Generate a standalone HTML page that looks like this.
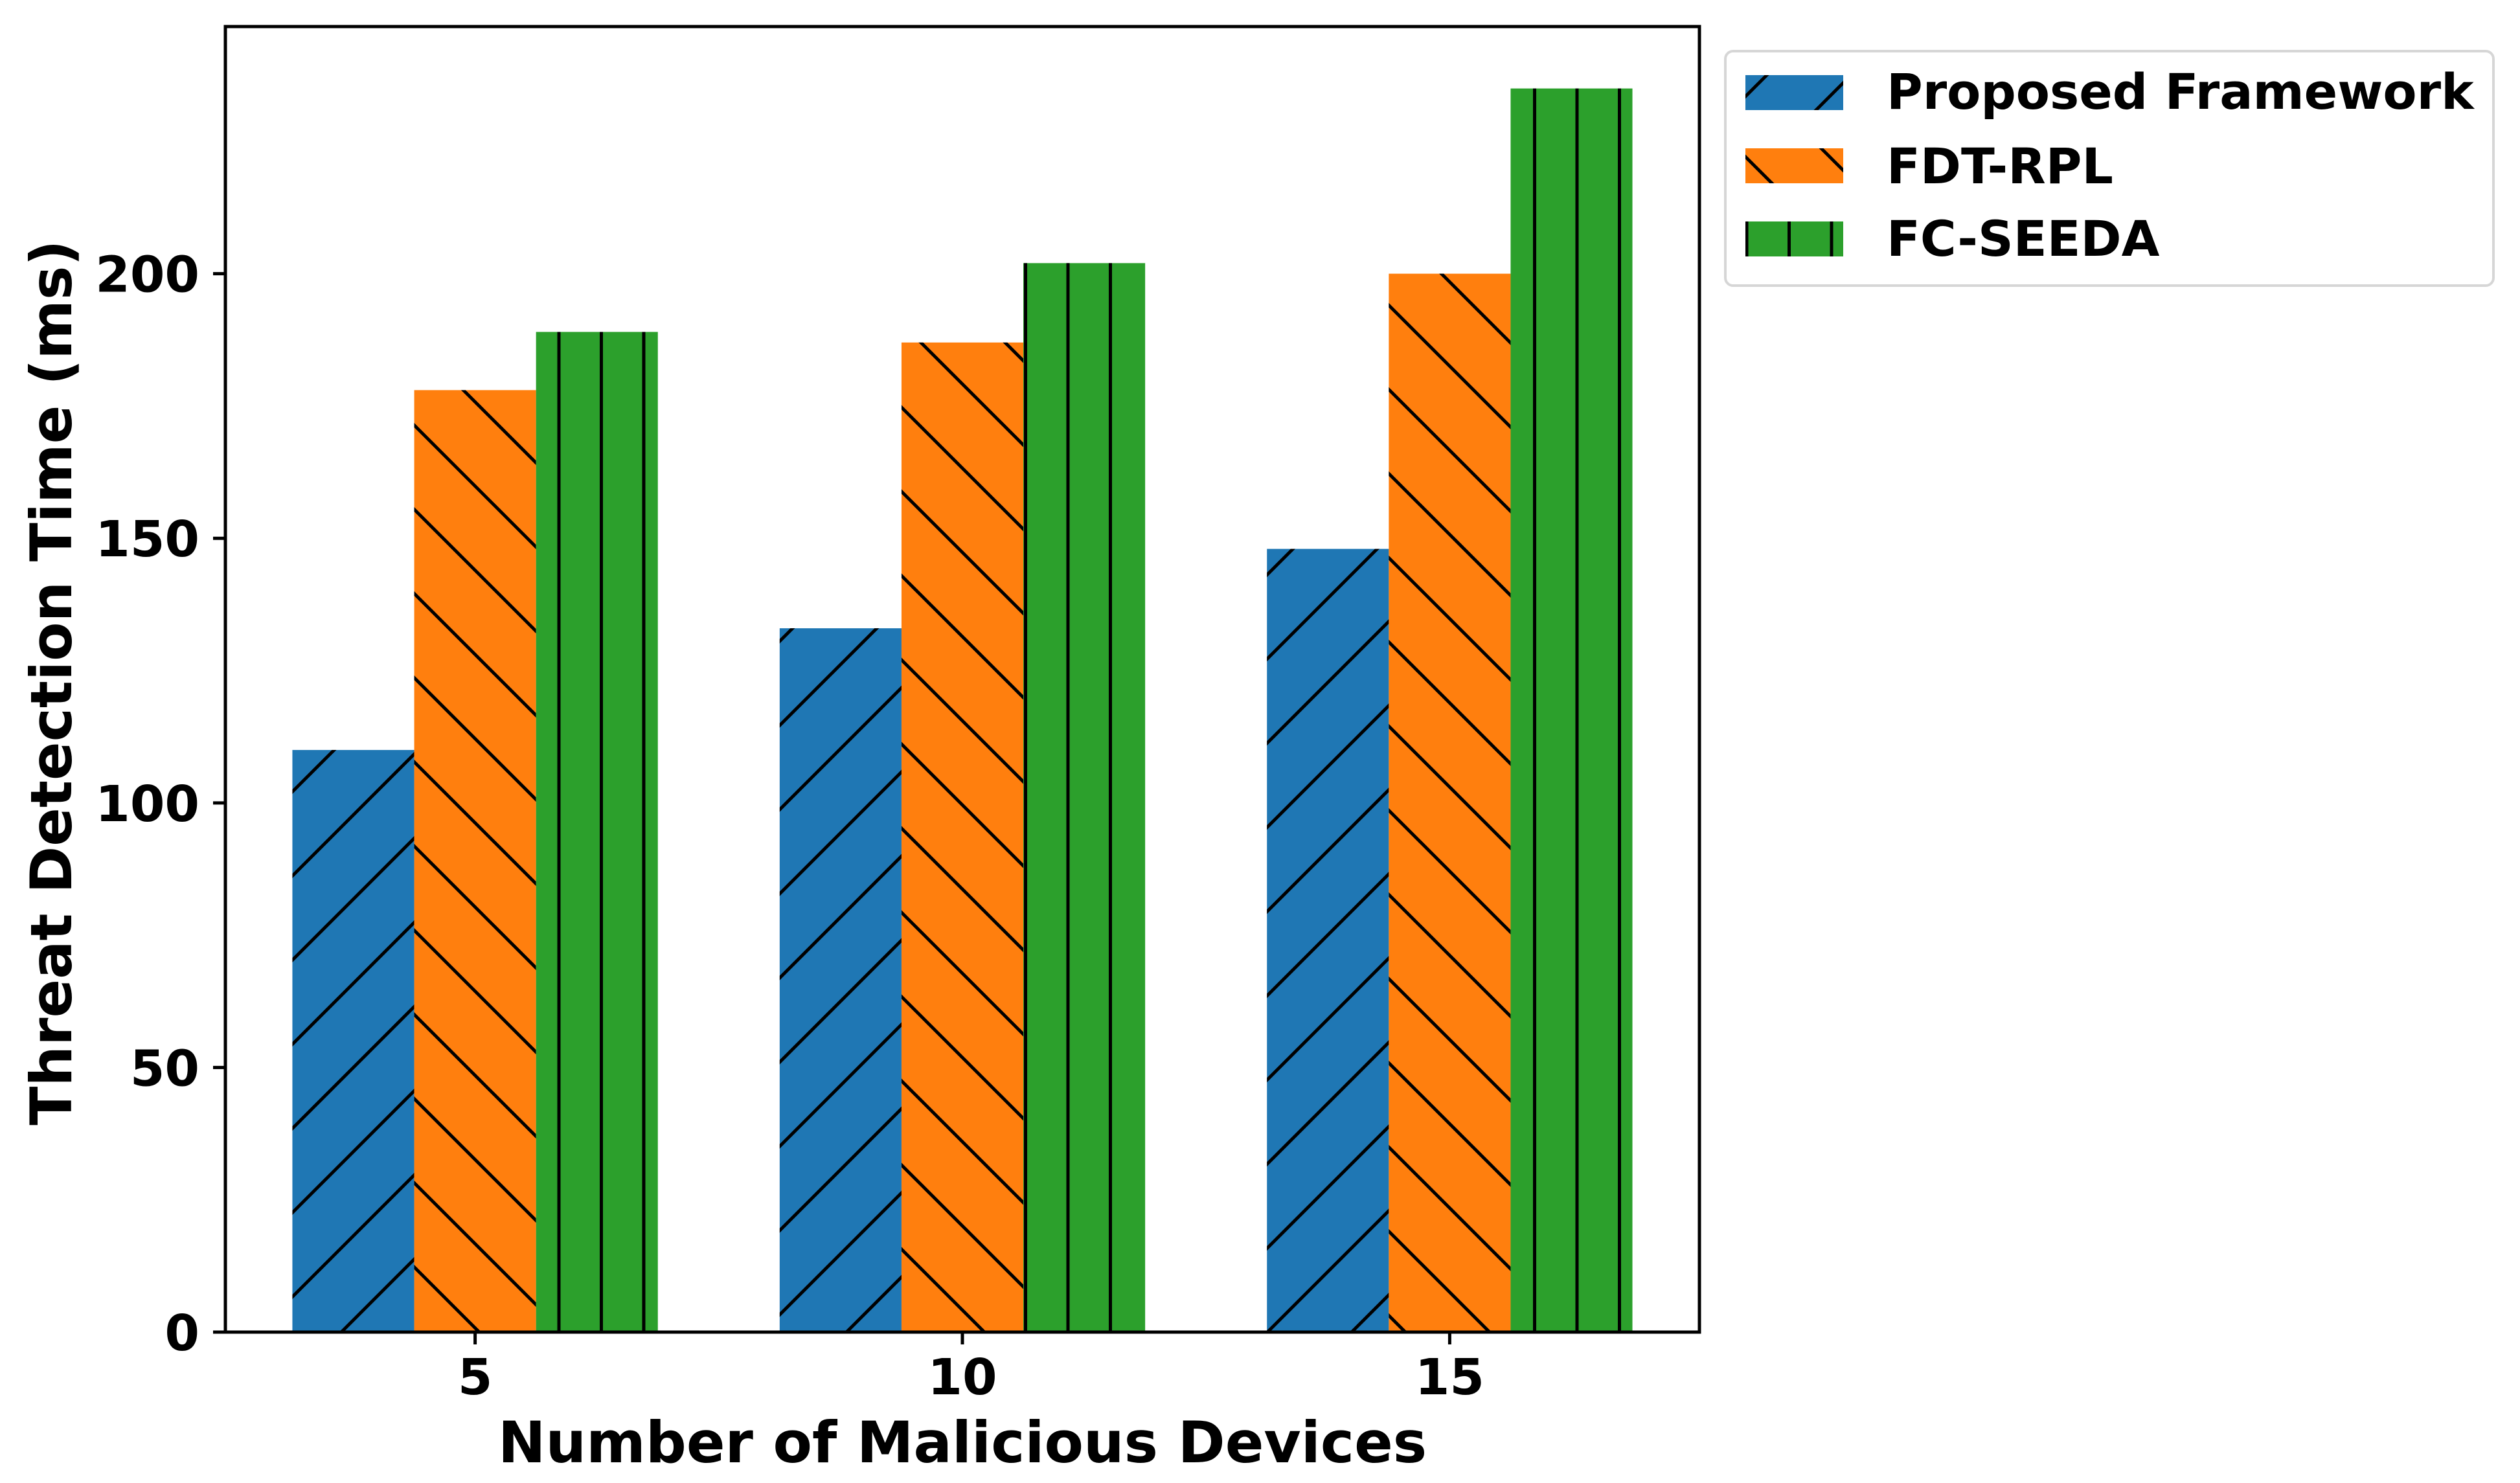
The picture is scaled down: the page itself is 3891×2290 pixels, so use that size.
<!DOCTYPE html>
<html><head><meta charset="utf-8"><style>
html,body{margin:0;padding:0;background:#fff}
svg{display:block}
text{font-family:"DejaVu Sans","Liberation Sans",sans-serif;font-weight:bold;fill:#000}
</style></head><body>
<svg id="chart" width="3891" height="2290" viewBox="0 0 3891 2290" xmlns="http://www.w3.org/2000/svg">
<defs>
<pattern id="hatch-fwd" patternUnits="userSpaceOnUse" x="114" y="0" width="130" height="130">
<path d="M-65,65 L65,-65 M0,130 L130,0 M65,195 L195,65" stroke="#000" stroke-width="5"/>
</pattern>
<pattern id="hatch-back" patternUnits="userSpaceOnUse" x="113" y="0" width="130" height="130">
<path d="M-65,65 L65,195 M0,0 L130,130 M65,-65 L195,65" stroke="#000" stroke-width="5"/>
</pattern>
<pattern id="hatch-vert" patternUnits="userSpaceOnUse" x="11.5" y="0" width="65.5" height="100">
<path d="M0,-10 L0,110 M65.5,-10 L65.5,110" stroke="#000" stroke-width="5"/>
</pattern>
</defs>
<g id="bars"></g>
<g id="axes"></g>
<text transform="translate(110,1054) rotate(-90)" text-anchor="middle" font-size="88">Threat Detection Time (ms)</text>
<text x="1486" y="2258" text-anchor="middle" font-size="88">Number of Malicious Devices</text>
<g>
<rect x="2664" y="79" width="1186" height="362" rx="12" fill="#fff" stroke="#d6d6d6" stroke-width="4"/>
<g>
<rect x="2695" y="116" width="151" height="54" fill="#1f77b4"/><rect x="2695" y="116" width="151" height="54" fill="url(#hatch-fwd)"/>
<text x="2913" y="168" font-size="76">Proposed Framework</text></g>
<g>
<rect x="2695" y="229" width="151" height="54" fill="#ff7f0e"/><rect x="2695" y="229" width="151" height="54" fill="url(#hatch-back)"/>
<text x="2913" y="283" font-size="76">FDT-RPL</text></g>
<g>
<rect x="2695" y="342" width="151" height="54" fill="#2ca02c"/><rect x="2695" y="342" width="151" height="54" fill="url(#hatch-vert)"/>
<text x="2913" y="395" font-size="76">FC-SEEDA</text></g>
</g>
</svg>
<script>
const categories = ["5", "10", "15"];
const seriesNames = ["Proposed Framework", "FDT-RPL", "FC-SEEDA"];
const proposedValues = [110, 133, 148];
const fdtRplValues = [178, 187, 200];
const fcSeedaValues = [189, 202, 235];
const yTicks = [0, 50, 100, 150, 200];

const NS = "http://www.w3.org/2000/svg";
const L = 348, R = 2624, T = 41, B = 2057;
const xMin = -0.5125, xMax = 2.5125, yMin = 0, yMax = 246.7;
function xs(v){ return L + (v - xMin) / (xMax - xMin) * (R - L); }
function ys(v){ return B - (v - yMin) / (yMax - yMin) * (B - T); }
function mk(tag, attrs, parent){ const e = document.createElementNS(NS, tag); for (const k in attrs) e.setAttribute(k, attrs[k]); parent.appendChild(e); return e; }

const barsG = document.getElementById('bars');
const series = [proposedValues, fdtRplValues, fcSeedaValues];
const colors = ["#1f77b4", "#ff7f0e", "#2ca02c"];
const hatches = ["url(#hatch-fwd)", "url(#hatch-back)", "url(#hatch-vert)"];
const keys = ["proposed", "fdt-rpl", "fc-seeda"];
const bw = 0.25;
series.forEach((vals, s) => {
  vals.forEach((v, i) => {
    const c = i + (s - 1) * bw;
    const x0 = xs(c - bw / 2), x1 = xs(c + bw / 2);
    const g = mk('g', {}, barsG);
    
    
    mk('rect', {x: x0, y: ys(v), width: x1 - x0, height: ys(0) - ys(v), fill: colors[s]}, g);
    mk('rect', {x: x0, y: ys(v), width: x1 - x0, height: ys(0) - ys(v), fill: hatches[s]}, g);
  });
});

const axG = document.getElementById('axes');
const frame = mk('rect', {x: L, y: T, width: R - L, height: B - T, fill: 'none', stroke: '#000', 'stroke-width': 5}, axG);


yTicks.forEach(t => {
  const y = ys(t);
  const tk = mk('line', {x1: L - 19, x2: L, y1: y, y2: y, stroke: '#000', 'stroke-width': 5}, axG);
  
  
  const lb = mk('text', {x: L - 40, y: y + 28, 'text-anchor': 'end', 'font-size': 77}, axG);
  lb.textContent = t;
  
  
});
categories.forEach((c, i) => {
  const x = xs(i);
  const tk = mk('line', {x1: x, x2: x, y1: B, y2: B + 19, stroke: '#000', 'stroke-width': 5}, axG);
  
  
  const lb = mk('text', {x: x, y: 2153, 'text-anchor': 'middle', 'font-size': 77}, axG);
  lb.textContent = c;
  
  
});
</script>
</body></html>
